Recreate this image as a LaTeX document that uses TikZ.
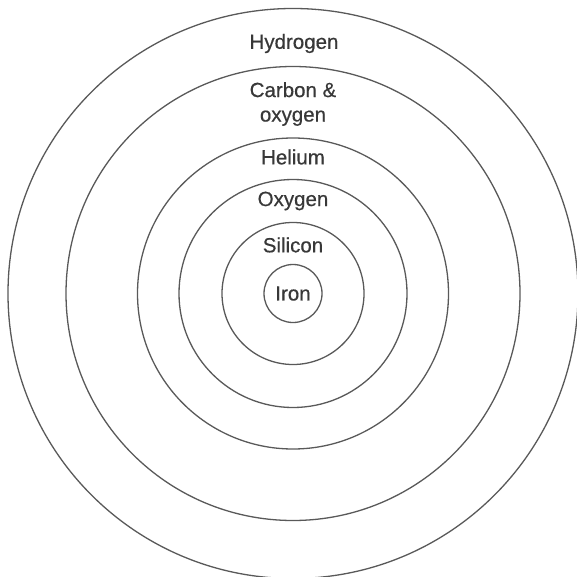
\documentclass[tikz,border=0pt]{standalone}
\usepackage{fontspec}
\setmainfont{Liberation Sans}[FakeBold=0.5]
\usetikzlibrary{positioning}

\begin{document}
\begin{tikzpicture}[x=1pt, y=-1pt,
shell/.style={draw=black!65, circle, line width=1.3pt, inner sep=0pt},
elem/.style={font=\fontsize{20.5}{24.5}\selectfont, text=black!78, align=center, inner sep=0pt}
]
\useasboundingbox (0,0) rectangle (576,577);
\coordinate (core) at (293,293.5);

% shells from outside in
\node[shell, minimum size=570pt] (hyd) at (core) {};
\node[shell, minimum size=454pt] (carb) at (core) {};
\node[shell, minimum size=311pt] (hel) at (core) {};
\node[shell, minimum size=228pt] (oxy) at (core) {};
\node[shell, minimum size=142pt] (sil) at (core) {};
\node[shell, minimum size=58pt, elem] (iron) at (core) {Iron};

% labels
\node[elem] (hydlbl) at (294,43.5) {Hydrogen};
\node[elem] (carblbl) at (293,104) {Carbon \&\\oxygen};
\node[elem] (hellbl) at (293,157) {Helium};
\node[elem] (oxylbl) at (293,201) {Oxygen};
\node[elem] (sillbl) at (293,245) {Silicon};
\end{tikzpicture}
\end{document}
